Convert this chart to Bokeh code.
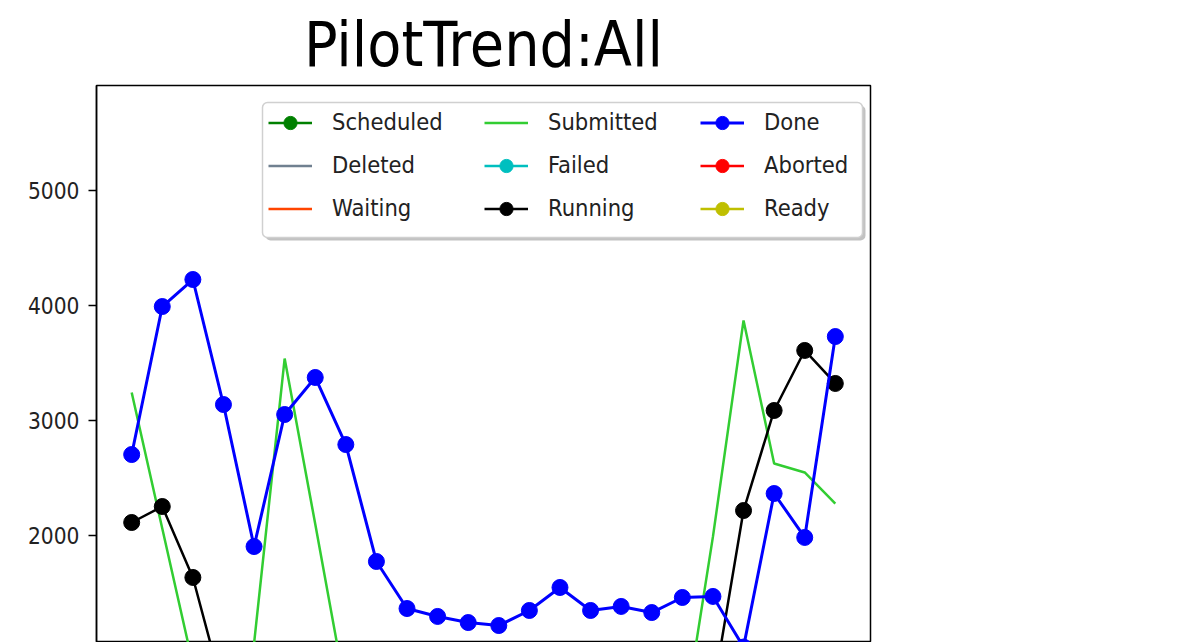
from bokeh.plotting import figure
from bokeh.models import Range1d, Legend, LegendItem, FixedTicker, BoxAnnotation
from bokeh.embed import file_html
from bokeh.resources import INLINE

FONT = "DejaVu Sans Condensed"

x = list(range(24))
series_names = ["Scheduled", "Deleted", "Waiting", "Submitted", "Failed",
                "Running", "Done", "Aborted", "Ready"]

scheduled = [0] * 24
deleted = [0] * 24
waiting = [0] * 24
failed = [0] * 24
aborted = [0] * 24
ready = [0] * 24
submitted = [3243, 2060, 880, 200, 1060, 3539, 2100, 640, 300, 250, 250, 250,
             250, 250, 250, 250, 250, 250, 300, 1990, 3870, 2626, 2548, 2278]
running = [2113, 2252, 1635, 640, 450, 420, 400, 400, 400, 400, 400, 400,
           400, 400, 400, 400, 400, 400, 400, 635, 2217, 3087, 3609, 3322]
done = [2704, 3991, 4226, 3139, 1904, 3052, 3374, 2791, 1774, 1365, 1296, 1243,
        1217, 1348, 1548, 1348, 1383, 1330, 1461, 1470, 1030, 2365, 1983, 3730]

y_ticks = [1000, 2000, 3000, 4000, 5000]

colors = {"Scheduled": "#008000", "Deleted": "#708090", "Waiting": "#FF4500",
          "Submitted": "#32CD32", "Failed": "#00BFBF", "Running": "#000000",
          "Done": "#0000FF", "Aborted": "#FF0000", "Ready": "#BFBF00"}
markers = {"Scheduled": True, "Deleted": False, "Waiting": False,
           "Submitted": False, "Failed": True, "Running": True,
           "Done": True, "Aborted": True, "Ready": True}
widths = {"Done": 3, "Submitted": 2.5, "Running": 2.5}
data = {"Scheduled": scheduled, "Deleted": deleted, "Waiting": waiting,
        "Submitted": submitted, "Failed": failed, "Running": running,
        "Done": done, "Aborted": aborted, "Ready": ready}

W, H = 1160, 642
p = figure(width=W, height=H, output_backend="svg", toolbar_location=None,
           x_range=Range1d(-1.15, 24.15), y_range=Range1d(1069.5, 5913),
           title="PilotTrend:All")
p.min_border_left = 96
p.min_border_right = W - 870
p.min_border_bottom = 0
p.min_border_top = 0

p.title.align = "center"
p.title.text_font = FONT
p.title.text_font_size = "62px"
p.title.text_font_style = "normal"
p.title.text_color = "#000000"
p.title.standoff = 10

p.xaxis.visible = False
p.xgrid.visible = False
p.ygrid.visible = False
p.outline_line_color = "#000000"
p.outline_line_width = 1.5
p.outline_line_alpha = 1
p.background_fill_color = "#ffffff"
p.border_fill_color = "#ffffff"

p.yaxis.ticker = FixedTicker(ticks=y_ticks)
p.yaxis.major_label_text_font = FONT
p.yaxis.major_label_text_font_size = "22.5px"
p.yaxis.major_label_text_color = "#222222"
p.yaxis.major_tick_out = 8
p.yaxis.major_tick_in = 0
p.yaxis.minor_tick_out = 0
p.yaxis.minor_tick_in = 0
p.yaxis.major_label_standoff = 9
p.yaxis.axis_line_color = "#000000"
p.yaxis.axis_line_width = 1.5
p.yaxis.major_tick_line_width = 1.5

items = {}
for name in series_names:
    c = colors[name]
    lw = widths.get(name, 2.5)
    r = [p.line(x, data[name], line_color=c, line_width=lw)]
    if markers[name]:
        r.append(p.scatter(x, data[name], size=16, fill_color=c, line_color=c))
    items[name] = r

# legend frame (matplotlib-style fancy box with shadow), screen units relative to frame
shadow = BoxAnnotation(left=169, right=769, bottom=402, top=537,
                       left_units="screen", right_units="screen",
                       bottom_units="screen", top_units="screen",
                       fill_color="#9a9a9a", fill_alpha=0.6, line_alpha=0,
                       border_radius=5)
box = BoxAnnotation(left=166, right=766, bottom=405, top=540,
                    left_units="screen", right_units="screen",
                    bottom_units="screen", top_units="screen",
                    fill_color="#ffffff", fill_alpha=1, line_color="#d0d0d0",
                    line_width=1.5, line_alpha=1, border_radius=5)
p.add_layout(shadow)
p.add_layout(box)

columns = [["Scheduled", "Deleted", "Waiting"],
           ["Submitted", "Failed", "Running"],
           ["Done", "Aborted", "Ready"]]
col_x = [172, 388, 604]
for names, vx in zip(columns, col_x):
    lg = Legend(items=[LegendItem(label=n, renderers=items[n]) for n in names],
                location=(vx, 417.5), orientation="vertical")
    lg.label_text_font = FONT
    lg.label_text_font_size = "23.5px"
    lg.label_text_color = "#222222"
    lg.glyph_width = 44
    lg.glyph_height = 33
    lg.label_standoff = 20
    lg.label_height = 29
    lg.spacing = 10
    lg.padding = 0
    lg.margin = 0
    lg.border_line_alpha = 0
    lg.background_fill_alpha = 0
    p.add_layout(lg)

open("out.html", "w").write(file_html(p, INLINE))
